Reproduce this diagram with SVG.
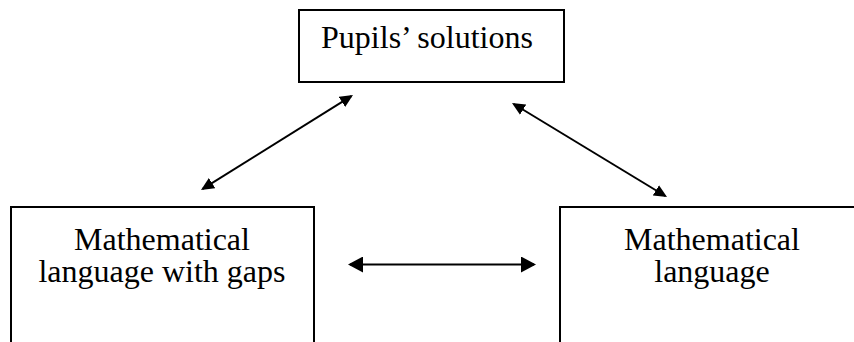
<svg xmlns="http://www.w3.org/2000/svg" width="854" height="342" viewBox="0 0 854 342">
  <style>
    .box { fill: #ffffff; stroke: #000000; stroke-width: 2; }
    .label { font-family: 'Liberation Serif', 'DejaVu Serif', serif; font-size: 32px; fill: #000000; text-anchor: middle; }
    .link { stroke: #000000; stroke-width: 2; fill: none; }
  </style>
  <defs>
    <marker id="headSmall" viewBox="0 0 13 12" refX="11" refY="6" markerWidth="13" markerHeight="12" markerUnits="userSpaceOnUse" orient="auto-start-reverse">
      <path d="M0,0 L13,6 L0,12 Z" fill="#000000"/>
    </marker>
    <marker id="headLarge" viewBox="0 0 15 16" refX="13" refY="8" markerWidth="15" markerHeight="16" markerUnits="userSpaceOnUse" orient="auto-start-reverse">
      <path d="M0,0 L15,8 L0,16 Z" fill="#000000"/>
    </marker>
  </defs>

  <g id="connectors">
    <line class="link" x1="202.7" y1="188.9" x2="351.3" y2="96.1" marker-start="url(#headSmall)" marker-end="url(#headSmall)"/>
    <line class="link" x1="513.7" y1="104" x2="665.3" y2="196" marker-start="url(#headSmall)" marker-end="url(#headSmall)"/>
    <line class="link" x1="350" y1="264.5" x2="534" y2="264.5" marker-start="url(#headLarge)" marker-end="url(#headLarge)"/>
  </g>

  <g id="pupils-solutions">
    <rect class="box" x="299" y="10" width="265" height="72"/>
    <text class="label" x="427" y="48" font-family="Liberation Serif, serif">Pupils’ solutions</text>
  </g>

  <g id="math-language-gaps">
    <rect class="box" x="11" y="207" width="303" height="150"/>
    <text class="label" x="162" y="250" font-family="Liberation Serif, serif">Mathematical</text>
    <text class="label" x="162" y="282" font-family="Liberation Serif, serif">language with gaps</text>
  </g>

  <g id="math-language">
    <rect class="box" x="560" y="207" width="310" height="150"/>
    <text class="label" x="712" y="250" font-family="Liberation Serif, serif">Mathematical</text>
    <text class="label" x="712" y="282" font-family="Liberation Serif, serif">language</text>
  </g>
</svg>
